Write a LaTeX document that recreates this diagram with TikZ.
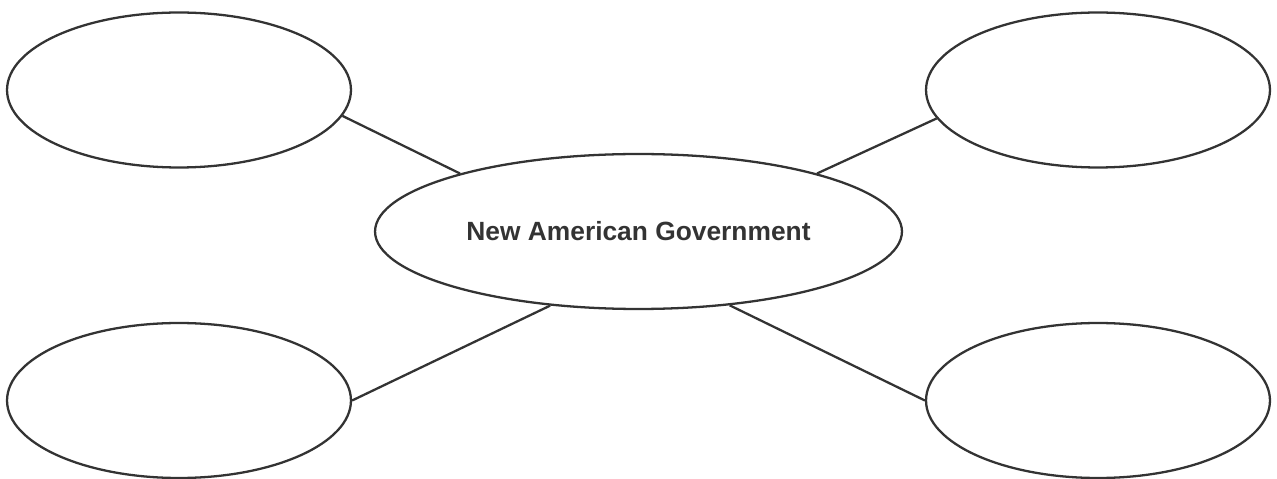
\documentclass[tikz,border=0pt]{standalone}
\usepackage{fontspec}
\setmainfont{Liberation Sans}
\usetikzlibrary{shapes.geometric}
\definecolor{ink}{HTML}{333333}
\begin{document}
\begin{tikzpicture}[x=0.02cm, y=-0.02cm,
  bubble/.style={ellipse, draw=ink, line width=1.3pt, inner sep=0pt,
    minimum width=6.88cm, minimum height=3.1cm},
  hub/.style={bubble, minimum width=10.54cm, minimum height=3.1cm,
    font=\fontsize{15}{18}\selectfont\bfseries, text=ink},
  link/.style={draw=ink, line width=1.3pt}]
  \useasboundingbox (0,0) rectangle (1277,479);
  \node[hub] (c) at (638.5,231.5) {New American Government};
  \node[bubble] (tl) at (179,90) {};
  \node[bubble] (tr) at (1098,90) {};
  \node[bubble] (bl) at (179,400.5) {};
  \node[bubble] (br) at (1098,400.5) {};
  \draw[link] (tl.-9.5) -- (c.162.3);
  \draw[link] (tr.-170.8) -- (c.18.3);
  \draw[link] (bl.-0.8) -- (c.-140.6);
  \draw[link] (br.180) -- (c.-39.7);
\end{tikzpicture}
\end{document}
